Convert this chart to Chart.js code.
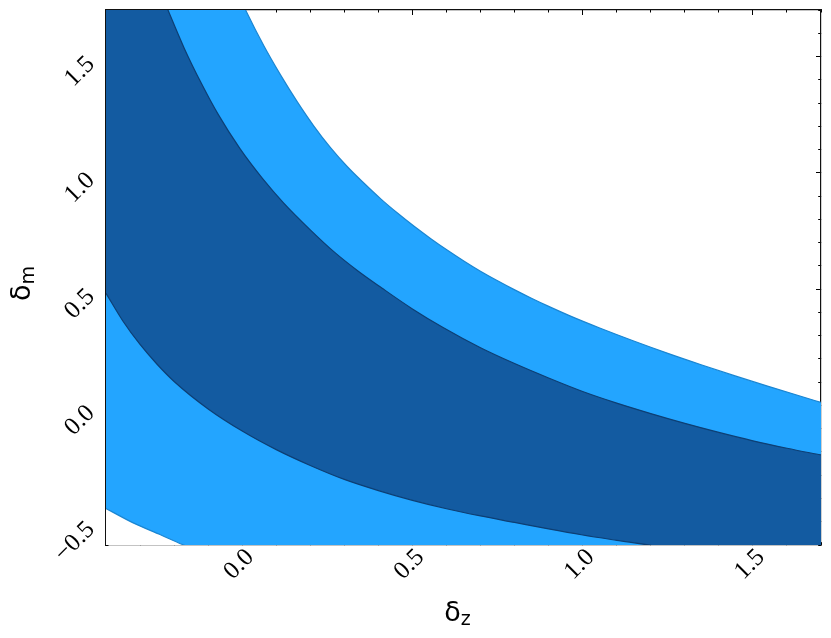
<!DOCTYPE html>
<html><head><meta charset="utf-8">
<script src="https://cdn.jsdelivr.net/npm/chart.js@4/dist/chart.umd.min.js"></script>
<style>html,body{margin:0;padding:0;background:#fff}#wrap{width:831px;height:638px;position:relative}</style>
</head><body><div id="wrap"><canvas id="c"></canvas></div>
<script>
// ---- data ----
const xRange = [-0.4, 1.7];
const yRange = [-0.6, 1.7];
const xTickValues = [0.0, 0.5, 1.0, 1.5];
const xTickLabels = ['0.0', '0.5', '1.0', '1.5'];
const yTickValues = [-0.5, 0.0, 0.5, 1.0, 1.5];
const yTickLabels = ['\u22120.5', '0.0', '0.5', '1.0', '1.5'];
const minorStep = 0.1;
const xTitle = ['\u03b4', 'z'];
const yTitle = ['\u03b4', 'm'];

// 2-sigma (outer) contour boundaries (first point continues the contour above the plotted range)
const sigma2Upper = [[-0.40,3.0],[0.01,1.70],[0.064,1.545],[0.113,1.42],[0.162,1.305],[0.211,1.20],[0.26,1.107],[0.309,1.026],[0.358,0.955],[0.407,0.888],[0.456,0.827],[0.505,0.770],[0.554,0.717],[0.603,0.667],[0.652,0.620],[0.701,0.576],[0.75,0.536],[0.799,0.498],[0.848,0.462],[0.897,0.428],[0.966,0.383],[1.05,0.333],[1.15,0.277],[1.25,0.224],[1.35,0.174],[1.45,0.126],[1.55,0.080],[1.65,0.035],[1.70,0.013]];
const sigma2Lower = [[-0.40,-0.443],[-0.32,-0.505],[-0.24,-0.556],[-0.172,-0.60],[-0.15,-0.613]];
// 1-sigma (inner) contour boundaries (end points continue the contour outside the plotted range)
const sigma1Upper = [[-0.40,2.35],[-0.218,1.70],[-0.17,1.535],[-0.12,1.385],[-0.07,1.25],[-0.007,1.105],[0.06,0.975],[0.122,0.87],[0.20,0.755],[0.27,0.66],[0.34,0.578],[0.41,0.505],[0.50,0.415],[0.59,0.335],[0.70,0.248],[0.80,0.18],[0.90,0.118],[1.00,0.06],[1.10,0.01],[1.20,-0.035],[1.30,-0.077],[1.40,-0.116],[1.50,-0.152],[1.60,-0.184],[1.70,-0.213]];
const sigma1Lower = [[-0.40,0.482],[-0.35,0.362],[-0.30,0.262],[-0.25,0.177],[-0.20,0.103],[-0.10,-0.015],[0.0,-0.11],[0.10,-0.19],[0.20,-0.258],[0.30,-0.318],[0.40,-0.366],[0.50,-0.408],[0.60,-0.444],[0.70,-0.475],[0.80,-0.503],[0.90,-0.531],[1.00,-0.557],[1.10,-0.58],[1.20,-0.602],[1.70,-0.75]];

// ---- styles ----
const lightFill = '#23a5ff';
const lightEdge = '#1b86d2';
const darkFill = '#135ba1';
const darkEdge = '#0d3f74';

const L = xRange[0], R = xRange[1], B = yRange[0], T = yRange[1];
const pts = a => a.map(p => ({x: p[0], y: p[1]}));
const inList = (list, v) => list.some(t => Math.abs(t - v) < 1e-6);
const labelFor = (vals, labs) => v => { const i = vals.findIndex(t => Math.abs(t - v) < 1e-6); return i >= 0 ? labs[i] : ''; };

const base = {showLine: true, pointRadius: 0, borderWidth: 1.2, cubicInterpolationMode: 'monotone', fill: 'start'};
const datasets = [
  Object.assign({}, base, {label: '2s upper', data: pts(sigma2Upper), backgroundColor: lightFill, borderColor: lightEdge, order: 4}),
  Object.assign({}, base, {label: '1s upper', data: pts(sigma1Upper), backgroundColor: darkFill, borderColor: darkEdge, order: 3}),
  Object.assign({}, base, {label: '1s lower', data: pts(sigma1Lower), backgroundColor: lightFill, borderColor: darkEdge, order: 2}),
  Object.assign({}, base, {label: '2s lower', data: pts(sigma2Lower), backgroundColor: '#ffffff', borderColor: lightEdge, order: 1})
];

const tickFont = {family: '"Liberation Serif", "Times New Roman", serif', size: 25};
function grid(vals, startSide) {
  return {
    drawOnChartArea: false, drawTicks: true, tickLength: -5, tickWidth: 1, tickColor: '#000',
    tickBorderDash: ctx => (ctx.tick && inList(vals, ctx.tick.value)) ? [] : (startSide ? [3, 100] : [0, 2.5, 3, 100])
  };
}
const border = {display: true, color: '#111', width: 1.2};
const fixBox = (prop, val) => s => { s[prop] = val; s.paddingTop = 0; s.paddingBottom = 0; s.paddingLeft = 0; s.paddingRight = 0; };

const titlePlugin = {
  id: 'subTitles',
  afterDraw(chart) {
    const ctx = chart.ctx, a = chart.chartArea;
    ctx.save();
    ctx.fillStyle = '#000';
    ctx.textBaseline = 'alphabetic';
    ctx.textAlign = 'left';
    const big = '27px "DejaVu Sans", sans-serif', small = '19px "DejaVu Sans", sans-serif';
    ctx.font = big; const w1 = ctx.measureText(xTitle[0]).width;
    ctx.font = small; const w2 = ctx.measureText(xTitle[1]).width;
    let x0 = (a.left + a.right) / 2 - 6 - (w1 + w2) / 2;
    ctx.font = big; ctx.fillText(xTitle[0], x0, 621);
    ctx.font = small; ctx.fillText(xTitle[1], x0 + w1, 625);
    ctx.font = big; const v1 = ctx.measureText(yTitle[0]).width;
    ctx.font = small; const v2 = ctx.measureText(yTitle[1]).width;
    const yc = (a.top + a.bottom) / 2 + 6;
    ctx.translate(30, yc + (v1 + v2) / 2);
    ctx.rotate(-Math.PI / 2);
    ctx.font = big; ctx.fillText(yTitle[0], 0, 0);
    ctx.font = small; ctx.fillText(yTitle[1], v1, 4);
    ctx.restore();
  }
};

new Chart(document.getElementById('c'), {
  type: 'scatter',
  data: {datasets},
  options: {
    responsive: true, maintainAspectRatio: false, animation: false, events: [],
    layout: {padding: 0},
    plugins: {legend: {display: false}, tooltip: {enabled: false}},
    scales: {
      x: {type: 'linear', position: 'bottom', min: L, max: R, z: 1,
        ticks: {stepSize: minorStep, autoSkip: false, minRotation: 45, maxRotation: 45, padding: 3, labelOffset: 8,
          color: '#000', font: tickFont, callback: labelFor(xTickValues, xTickLabels)},
        grid: grid(xTickValues, true), border,
        afterFit: fixBox('height', 93)},
      y: {type: 'linear', position: 'left', min: B, max: T, z: 1,
        ticks: {stepSize: minorStep, autoSkip: false, minRotation: 45, maxRotation: 45, padding: 20, labelOffset: 4,
          color: '#000', font: tickFont, callback: labelFor(yTickValues, yTickLabels)},
        grid: grid(yTickValues, false), border,
        afterFit: fixBox('width', 106)},
      x2: {type: 'linear', position: 'top', min: L, max: R, z: 1,
        ticks: {stepSize: minorStep, autoSkip: false, display: false},
        grid: grid(xTickValues, false), border,
        afterFit: fixBox('height', 10)},
      y2: {type: 'linear', position: 'right', min: B, max: T, z: 1,
        ticks: {stepSize: minorStep, autoSkip: false, display: false},
        grid: grid(yTickValues, true), border,
        afterFit: fixBox('width', 10)}
    }
  },
  plugins: [titlePlugin]
});
</script>
</body></html>
